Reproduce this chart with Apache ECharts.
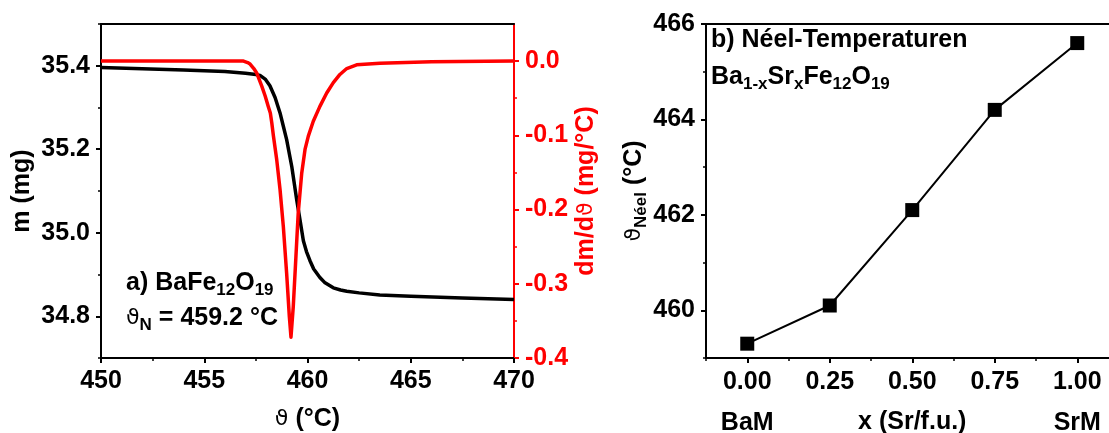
<!DOCTYPE html>
<html>
<head>
<meta charset="utf-8">
<script src="https://cdn.jsdelivr.net/npm/echarts@6/dist/echarts.min.js"></script>
<style>
html,body{margin:0;padding:0;background:#fff;}
#chart{width:1109px;height:433px;}
</style>
</head>
<body>
<div id="chart"></div>
<script>
// ---- Panel a) TG mass curve ----
const tempMass = [450, 452, 454, 456, 457, 457.5, 457.7, 457.95, 458.18, 458.43, 458.67, 458.83, 458.99, 459.24, 459.48, 459.64, 459.8, 459.95, 460.12, 460.3, 460.6, 460.85, 461.25, 461.6, 461.9, 462.5, 463.5, 465, 467.5, 470];
const massMg   = [35.396, 35.393, 35.390, 35.386, 35.382, 35.379, 35.377, 35.368, 35.352, 35.324, 35.287, 35.255, 35.223, 35.158, 35.078, 35.030, 34.981, 34.955, 34.933, 34.913, 34.893, 34.880, 34.868, 34.863, 34.860, 34.856, 34.851, 34.848, 34.844, 34.840];

// ---- Panel a) derivative dm/dT ----
const tempDeriv = [450, 453, 456.9, 457.1, 457.22, 457.4, 457.54, 457.65, 457.79, 457.95, 458.1, 458.2, 458.27, 458.35, 458.51, 458.67, 458.83, 458.99, 459.12, 459.2, 459.31, 459.44, 459.55, 459.72, 459.88, 460.04, 460.28, 460.6, 460.93, 461.25, 461.57, 461.9, 462.38, 463.51, 466, 470];
const dmdT      = [0.000, 0.000, 0.000, -0.002, -0.004, -0.010, -0.016, -0.024, -0.034, -0.047, -0.061, -0.070, -0.083, -0.101, -0.133, -0.173, -0.223, -0.286, -0.344, -0.372, -0.331, -0.263, -0.205, -0.151, -0.119, -0.101, -0.081, -0.061, -0.043, -0.029, -0.018, -0.010, -0.005, -0.003, -0.001, 0.000];

// ---- Panel b) Néel temperatures ----
const srFraction = [0, 0.25, 0.5, 0.75, 1];
const neelTemp   = [459.3, 460.1, 462.1, 464.2, 465.6];

// tick labels
const massTicks  = [34.8, 35.0, 35.2, 35.4];
const derivTicks = [-0.4, -0.3, -0.2, -0.1, 0.0];
const neelTicks  = [460, 462, 464, 466];
const fracTicks  = [0, 0.25, 0.5, 0.75, 1];
const endLabels  = ['BaM', 'SrM'];

const FF = '"Liberation Sans", Arial, "DejaVu Sans", sans-serif';
const FS = 25;
const rich = {
  b:   {fontFamily: FF, fontSize: FS, fontWeight: 'bold', color: '#000', lineHeight: 30},
  s:   {fontFamily: FF, fontSize: 17, fontWeight: 'bold', color: '#000', lineHeight: 16, padding: [14, 0, 0, 0]},
  t:   {fontFamily: '"DejaVu Sans", sans-serif', fontSize: 22, fontWeight: 'normal', color: '#000', lineHeight: 30},
  rb:  {fontFamily: FF, fontSize: FS, fontWeight: 'bold', color: '#ff0000', lineHeight: 30},
  rt:  {fontFamily: '"DejaVu Sans", sans-serif', fontSize: 22, fontWeight: 'normal', color: '#ff0000', lineHeight: 30}
};
const labelStyle = {fontFamily: FF, fontSize: FS, fontWeight: 'bold', color: '#000'};
const yLabelPad = [3, 0, 0, 0];
const blackLine = {lineStyle: {color: '#000', width: 2}};

const chart = echarts.init(document.getElementById('chart'), null, {renderer: 'canvas'});
const option = {
  animation: false,
  backgroundColor: '#fff',
  grid: [
    {left: 101, top: 24, width: 413, height: 334, containLabel: false, outerBoundsMode: 'none'},
    {left: 706, top: 24, width: 412.5, height: 334, containLabel: false, outerBoundsMode: 'none'}
  ],
  xAxis: [
    { // 0: temperature axis (panel a)
      type: 'value', gridIndex: 0, position: 'bottom', min: 450, max: 470, interval: 5,
      axisLine: {show: true, onZero: false, ...blackLine},
      axisTick: {show: true, length: 5, lineStyle: {color: '#000', width: 2}},
      minorTick: {show: true, splitNumber: 2, length: 3, lineStyle: {color: '#000', width: 1.5}},
      splitLine: {show: false},
      axisLabel: {...labelStyle, margin: 11},
      name: '{t|ϑ}{b| (°C)}', nameLocation: 'middle', nameGap: 46,
      nameTextStyle: {rich: rich}
    },
    { // 1: top frame (panel a)
      type: 'value', gridIndex: 0, position: 'top', min: 450, max: 470,
      axisLine: {show: true, onZero: false, ...blackLine},
      axisTick: {show: false}, axisLabel: {show: false}, splitLine: {show: false}
    },
    { // 2: minor ticks (panel b)
      type: 'value', gridIndex: 1, position: 'bottom', min: -0.125, max: 1.125, interval: 0.125,
      axisLine: {show: true, onZero: false, ...blackLine},
      axisTick: {show: true, length: 3, lineStyle: {color: '#000', width: 1.5}},
      axisLabel: {show: false}, splitLine: {show: false}
    },
    { // 3: major ticks + labels (panel b)
      type: 'value', gridIndex: 1, position: 'bottom', min: -0.125, max: 1.125,
      axisLine: {show: false, onZero: false},
      axisTick: {show: true, length: 5, customValues: fracTicks, lineStyle: {color: '#000', width: 2}},
      axisLabel: {...labelStyle, margin: 12, customValues: fracTicks, formatter: v => v.toFixed(2)},
      splitLine: {show: false},
      name: 'x (Sr/f.u.)', nameLocation: 'middle', nameGap: 52,
      nameTextStyle: {...labelStyle}
    },
    { // 4: BaM / SrM end labels (panel b)
      type: 'value', gridIndex: 1, position: 'bottom', min: -0.125, max: 1.125,
      axisLine: {show: false, onZero: false}, axisTick: {show: false}, splitLine: {show: false},
      axisLabel: {...labelStyle, margin: 53, customValues: [0, 1], formatter: v => (v < 0.5 ? endLabels[0] : endLabels[1])}
    },
    { // 5: top frame (panel b)
      type: 'value', gridIndex: 1, position: 'top', min: -0.125, max: 1.125,
      axisLine: {show: true, onZero: false, ...blackLine},
      axisTick: {show: false}, axisLabel: {show: false}, splitLine: {show: false}
    }
  ],
  yAxis: [
    { // 0: mass (panel a)
      type: 'value', gridIndex: 0, position: 'left', min: 34.7, max: 35.5,
      axisLine: {show: true, onZero: false, ...blackLine},
      axisTick: {show: true, length: 5, customValues: massTicks, lineStyle: {color: '#000', width: 2}},
      axisLabel: {...labelStyle, margin: 11, padding: yLabelPad, customValues: massTicks, formatter: v => v.toFixed(1)},
      splitLine: {show: false},
      name: 'm (mg)', nameLocation: 'middle', nameRotate: 90, nameGap: 66,
      nameTextStyle: {...labelStyle}
    },
    { // 1: minor ticks mass
      type: 'value', gridIndex: 0, position: 'left', min: 34.7, max: 35.5, interval: 0.1,
      axisLine: {show: false, onZero: false},
      axisTick: {show: true, length: 3, lineStyle: {color: '#000', width: 1.5}},
      axisLabel: {show: false}, splitLine: {show: false}
    },
    { // 2: derivative (panel a, right)
      type: 'value', gridIndex: 0, position: 'right', min: -0.4, max: 0.05, interval: 0.1,
      axisLine: {show: true, onZero: false, lineStyle: {color: '#ff0000', width: 2}},
      axisTick: {show: true, length: 5, customValues: derivTicks, lineStyle: {color: '#ff0000', width: 2}},
      minorTick: {show: true, splitNumber: 2, length: 3, lineStyle: {color: '#ff0000', width: 1.5}},
      axisLabel: {...labelStyle, color: '#ff0000', margin: 11, padding: yLabelPad, customValues: derivTicks,
                  formatter: v => (Math.abs(v) < 1e-9 ? '0.0' : v.toFixed(1))},
      splitLine: {show: false},
      name: '{rb|dm/d}{rt|ϑ}{rb| (mg/°C)}', nameLocation: 'middle', nameRotate: 90, nameGap: 57,
      nameTextStyle: {rich: rich}
    },
    { // 3: Néel temperature (panel b)
      type: 'value', gridIndex: 1, position: 'left', min: 459, max: 466,
      axisLine: {show: true, onZero: false, ...blackLine},
      axisTick: {show: true, length: 5, customValues: neelTicks, lineStyle: {color: '#000', width: 2}},
      axisLabel: {...labelStyle, margin: 11, padding: yLabelPad, customValues: neelTicks, formatter: v => String(Math.round(v))},
      splitLine: {show: false},
      name: '{t|ϑ}{s|Néel}{b| (°C)}', nameLocation: 'middle', nameRotate: 90, nameGap: 56,
      nameTextStyle: {rich: rich}
    },
    { // 4: minor ticks Néel
      type: 'value', gridIndex: 1, position: 'left', min: 459, max: 466, interval: 1,
      axisLine: {show: false, onZero: false},
      axisTick: {show: true, length: 3, lineStyle: {color: '#000', width: 1.5}},
      axisLabel: {show: false}, splitLine: {show: false}
    }
  ],
  series: [
    {
      type: 'line', xAxisIndex: 0, yAxisIndex: 0, showSymbol: false, symbol: 'none',
      data: tempMass.map((t, i) => [t, massMg[i]]),
      lineStyle: {color: '#000', width: 3.5, join: 'round'}, z: 3
    },
    {
      type: 'line', xAxisIndex: 0, yAxisIndex: 2, showSymbol: false, symbol: 'none',
      data: tempDeriv.map((t, i) => [t, dmdT[i]]),
      lineStyle: {color: '#ff0000', width: 3.5, join: 'round'}, z: 4
    },
    {
      type: 'line', xAxisIndex: 3, yAxisIndex: 3, symbol: 'rect', symbolSize: 14,
      data: srFraction.map((x, i) => [x, neelTemp[i]]),
      itemStyle: {color: '#000'},
      lineStyle: {color: '#000', width: 2}, z: 3
    }
  ],
  graphic: [
    {type: 'text', left: 126, top: 268, z: 10,
     style: {text: '{b|a) BaFe}{s|12}{b|O}{s|19}', rich: rich}},
    {type: 'text', left: 126, top: 303, z: 10,
     style: {text: '{t|ϑ}{s|N}{b| = 459.2 °C}', rich: rich}},
    {type: 'text', left: 711, top: 28, z: 10,
     style: {text: '{b|b) Néel-Temperaturen}', rich: rich}},
    {type: 'text', left: 711, top: 62, z: 10,
     style: {text: '{b|Ba}{s|1-x}{b|Sr}{s|x}{b|Fe}{s|12}{b|O}{s|19}', rich: rich}}
  ]
};
chart.setOption(option);
</script>
</body>
</html>
